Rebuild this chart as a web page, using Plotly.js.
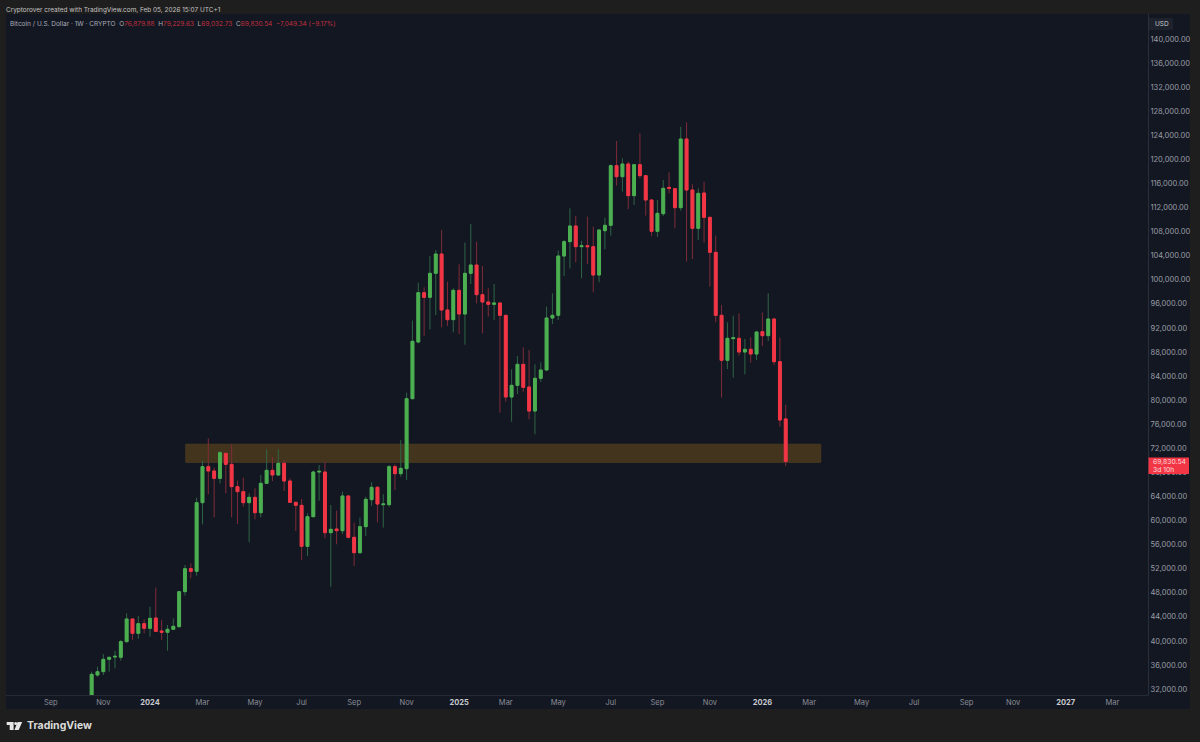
<!DOCTYPE html>
<html>
<head>
<meta charset="utf-8">
<script src="https://cdn.plot.ly/plotly-3.0.1.min.js"></script>
<style>html,body{margin:0;padding:0;background:#1e1e1e;}</style>
</head>
<body>
<div id="chart" style="width:1200px;height:742px;"></div>
<script>
const weeks = [
"2023-10-23","2023-10-30","2023-11-06","2023-11-13","2023-11-20","2023-11-27","2023-12-04","2023-12-11","2023-12-18","2023-12-25",
"2024-01-01","2024-01-08","2024-01-15","2024-01-22","2024-01-29","2024-02-05","2024-02-12","2024-02-19","2024-02-26","2024-03-04",
"2024-03-11","2024-03-18","2024-03-25","2024-04-01","2024-04-08","2024-04-15","2024-04-22","2024-04-29","2024-05-06","2024-05-13",
"2024-05-20","2024-05-27","2024-06-03","2024-06-10","2024-06-17","2024-06-24","2024-07-01","2024-07-08","2024-07-15","2024-07-22",
"2024-07-29","2024-08-05","2024-08-12","2024-08-19","2024-08-26","2024-09-02","2024-09-09","2024-09-16","2024-09-23","2024-09-30",
"2024-10-07","2024-10-14","2024-10-21","2024-10-28","2024-11-04","2024-11-11","2024-11-18","2024-11-25","2024-12-02","2024-12-09",
"2024-12-16","2024-12-23","2024-12-30","2025-01-06","2025-01-13","2025-01-20","2025-01-27","2025-02-03","2025-02-10","2025-02-17",
"2025-02-24","2025-03-03","2025-03-10","2025-03-17","2025-03-24","2025-03-31","2025-04-07","2025-04-14","2025-04-21","2025-04-28",
"2025-05-05","2025-05-12","2025-05-19","2025-05-26","2025-06-02","2025-06-09","2025-06-16","2025-06-23","2025-06-30","2025-07-07",
"2025-07-14","2025-07-21","2025-07-28","2025-08-04","2025-08-11","2025-08-18","2025-08-25","2025-09-01","2025-09-08","2025-09-15",
"2025-09-22","2025-09-29","2025-10-06","2025-10-13","2025-10-20","2025-10-27","2025-11-03","2025-11-10","2025-11-17","2025-11-24",
"2025-12-01","2025-12-08","2025-12-15","2025-12-22","2025-12-29","2026-01-05","2026-01-12","2026-01-19","2026-01-26","2026-02-02"];

const opens = [
29990,34336,34890,36939,37326,37271,39874,43640,41258,42864,
42089,43805,41646,41425,41923,42366,48181,52002,51559,62967,
68948,68228,67010,71163,69336,65625,64795,62967,63853,61306,
66179,68339,67564,69502,66567,63022,62524,55713,60641,68062,
68062,57983,58592,58315,64075,57208,54660,58980,63466,65515,
62635,62635,68948,67785,68616,80246,89660,97857,97081,101069,
104281,94977,93371,98245,94312,101069,102453,97525,96306,95919,
96140,94091,80523,82461,85950,82184,78197,83624,85009,93648,
94091,103949,106330,108933,105499,105665,105499,100792,108157,109043,
118956,117129,119233,113972,119122,117295,113252,108046,110982,115356,
115135,111978,123387,114914,108545,114415,110372,104558,94090,86614,
90214,90269,87999,88442,87667,91377,90713,93482,86393,76879.88];

const highs = [
34890,35720,37825,37382,38378,40151,44581,43750,44138,43585,
45689,48845,43473,42643,43750,48236,52611,52888,63798,69945,
73655,68782,71551,71274,72659,66622,67121,64518,65349,67564,
71828,70499,71828,70056,67010,63133,63576,61195,68284,69225,
69779,62580,61638,64795,64241,59644,60475,63964,66345,65736,
64352,69225,69336,73379,81243,93205,99518,98743,103949,104945,
108268,99684,98577,102564,106164,109265,106330,102287,98577,99297,
96251,94146,85119,87335,88774,88331,85950,86282,95531,97746,
104835,106607,111868,110594,106496,110483,108822,108268,110317,119178,
123054,120175,119621,119178,124328,117406,113363,113252,116575,117849,
115301,125436,126156,115855,115190,116298,110483,107326,95807,92927,
94035,94423,90158,90435,91488,94589,97745,93592,90380,79229.63];

const lows = [
29700,34058,34336,34890,35443,36717,39763,40151,40372,41258,
40704,41480,40151,38378,41812,42200,47516,50396,50839,59368,
64352,60530,66179,64518,60530,59423,62303,56377,60198,60530,
66068,66567,67453,64905,62967,58260,53442,54106,60530,63299,
57042,49011,56045,57761,57042,52445,54439,57429,62469,59700,
58814,62303,65072,67287,66733,80135,89439,90657,91765,94146,
92097,92319,91267,90990,89218,99297,96085,91100,93869,93316,
77920,79747,76425,81021,81409,76812,74320,83015,84898,92651,
93316,100626,101900,102896,100238,102619,97912,99573,105056,107326,
115633,114637,111757,112421,116852,110649,107271,107105,110594,114360,
108545,111480,103007,103450,106607,106164,98853,92927,80411,85174,
83735,87390,84288,86227,86670,88996,89827,85840,75594,69032.73];

const closes = [
34446,34890,36939,37271,37437,39874,43640,41258,42864,42089,
43750,41590,41425,41923,42421,48181,52002,51559,62967,68948,
68228,67010,71274,69336,65625,64795,62967,63853,61306,66179,
68339,67564,69502,66567,63022,62524,55713,60641,68062,68173,
57983,58537,58315,64075,57208,54660,58980,63521,65515,62746,
62746,68948,67785,68671,80246,89771,97857,97081,101069,104281,
94977,93371,98245,94312,101069,102453,97525,96306,95919,96140,
94091,80523,82461,85950,82129,78197,83624,85009,93648,94091,
103949,106330,108933,105499,105665,105499,100792,108268,109043,118956,
117129,119233,113972,119122,117295,113252,108046,111037,115190,115190,
111978,123387,114914,108545,114360,110372,104558,94090,86614,90269,
90380,87999,88442,87667,91321,90713,93482,86393,76702,69830.54];

const priceTicks = [32000,36000,40000,44000,48000,52000,56000,60000,64000,68000,72000,76000,80000,84000,88000,92000,96000,100000,104000,108000,112000,116000,120000,124000,128000,132000,136000,140000];
const monthTicks = ["2023-09-04","2023-11-06","2024-01-01","2024-03-04","2024-05-06","2024-07-01","2024-09-02","2024-11-04",
"2025-01-06","2025-03-03","2025-05-05","2025-07-07","2025-09-01","2025-11-03","2026-01-05","2026-03-02","2026-05-04",
"2026-07-06","2026-09-07","2026-11-02","2027-01-04","2027-03-01"];
const monthLabels = ["Sep","Nov","2024","Mar","May","Jul","Sep","Nov","2025","Mar","May","Jul","Sep","Nov","2026","Mar","May","Jul","Sep","Nov","2027","Mar"];
const zoneStart = "2024-02-13", zoneEnd = "2026-03-16", zoneTop = 72670, zoneBottom = 69670;

const L = 6, R = 1148, T = 14, B = 695, W = 1200, H = 742;
const FONT = "Inter, 'Liberation Sans', sans-serif";
const px = x => (x - L) / (R - L);
const py = y => (B - y) / (B - T);
const rect = (x0, y0, x1, y1, fill, line, layer) => ({type:"rect", xref:"paper", yref:"paper",
  x0:px(x0), x1:px(x1), y0:py(y0), y1:py(y1), fillcolor:fill, line:{color:line||fill, width:line?1:0}, layer:layer||"below"});
const note = (x, y, text, size, color, anchor) => ({xref:"paper", yref:"paper", x:px(x), y:py(y), text:text, showarrow:false,
  xanchor:anchor||"left", yanchor:"middle", align:anchor||"left", font:{family:FONT, size:size, color:color}});
const red = s => `<span style="color:#c2303e">${s}</span>`;

const logoPath = [[6.7,722],[13.6,722],[13.6,730],[9.7,730],[9.7,725],[6.7,725]].map((p,i)=>(i?"L":"M")+px(p[0])+","+py(p[1])).join(" ")+" Z";
const slashPath = [[17.6,722],[22.2,722],[18.7,730],[14.4,730]].map((p,i)=>(i?"L":"M")+px(p[0])+","+py(p[1])).join(" ")+" Z";

const wicks = {
  type:"candlestick", x:weeks, open:opens, high:highs, low:lows, close:closes,
  increasing:{line:{color:"#2f6546", width:1}, fillcolor:"#2f6546"},
  decreasing:{line:{color:"#7f2b39", width:1}, fillcolor:"#7f2b39"},
  whiskerwidth:0, hoverinfo:"skip", showlegend:false
};
const bodies = {
  type:"candlestick", x:weeks, open:opens, close:closes,
  high:opens.map((o,i)=>Math.max(o,closes[i])), low:opens.map((o,i)=>Math.min(o,closes[i])),
  increasing:{line:{color:"#4caf50", width:1}, fillcolor:"#4caf50"},
  decreasing:{line:{color:"#f23645", width:1}, fillcolor:"#f23645"},
  whiskerwidth:0, hoverinfo:"skip", showlegend:false
};

const layout = {
  width:W, height:H, autosize:false,
  margin:{l:L, r:W-R, t:T, b:H-B, pad:0},
  paper_bgcolor:"#1e1e1e", plot_bgcolor:"#131722",
  showlegend:false, hovermode:false, dragmode:false,
  xaxis:{type:"date", range:["2023-07-12 04:48","2027-04-12 19:00"], rangeslider:{visible:false},
    showgrid:false, zeroline:false, showline:true, linecolor:"#262a35", linewidth:1,
    tickmode:"array", tickvals:monthTicks,
    ticktext:monthLabels.map(s => /^20/.test(s) ? `<b><span style="color:#c8cad0">${s}</span></b>` : s),
    ticks:"", tickangle:0, tickfont:{family:FONT, size:7.5, color:"#8a8d96"}, automargin:false},
  yaxis:{side:"right", range:[31013,144154], tickmode:"array", tickvals:priceTicks, tickformat:",.2f",
    showgrid:false, zeroline:false, showline:true, linecolor:"#2a2e39", linewidth:1,
    ticks:"", tickfont:{family:FONT, size:7.5, color:"#9a9da6"}, automargin:false, ticklabelposition:"outside"},
  shapes:[
    rect(L, T, 1190, 709, "#131722"),
    {type:"rect", xref:"x", yref:"y", x0:zoneStart, x1:zoneEnd, y0:zoneBottom, y1:zoneTop, fillcolor:"#43351d", line:{color:"#493920", width:1}, layer:"below"},
    rect(1149, 18, 1173, 30, "#1e222d", null, "above"),
    rect(1148.5, 457.5, 1189, 474, "#f23645", null, "above"),
    {type:"path", xref:"paper", yref:"paper", path:logoPath, fillcolor:"#e6e6e6", line:{width:0}, layer:"above"},
    {type:"path", xref:"paper", yref:"paper", path:slashPath, fillcolor:"#e6e6e6", line:{width:0}, layer:"above"},
    {type:"circle", xref:"paper", yref:"paper", x0:px(14.2), x1:px(17.2), y0:py(725.1), y1:py(722.1), fillcolor:"#e6e6e6", line:{width:0}, layer:"above"}
  ],
  annotations:[
    note(4, 9.5, "Cryptorover created with TradingView.com, Feb 05, 2026 15:07 UTC+1", 6.45, "#c4c4c4"),
    note(8, 24, "Bitcoin / U.S. Dollar · 1W · CRYPTO  O"+red("76,879.88")+"  H"+red("79,229.63")+"  L"+red("69,032.73")+"  C"+red("69,830.54")+"  "+red("−7,049.34 (−9.17%)"), 6.5, "#a9acb5"),
    note(1153, 24, "USD", 6.5, "#c8cad0"),
    note(1151, 461.5, "69,830.54", 6.8, "#ffd9dd"),
    note(1151, 469.5, "3d 10h", 6.8, "#ffd9dd"),
    note(25, 726, "<b>TradingView</b>", 10.5, "#dcdcdc")
  ]
};

Plotly.newPlot("chart", [wicks, bodies], layout, {displayModeBar:false, staticPlot:true});
</script>
</body>
</html>
